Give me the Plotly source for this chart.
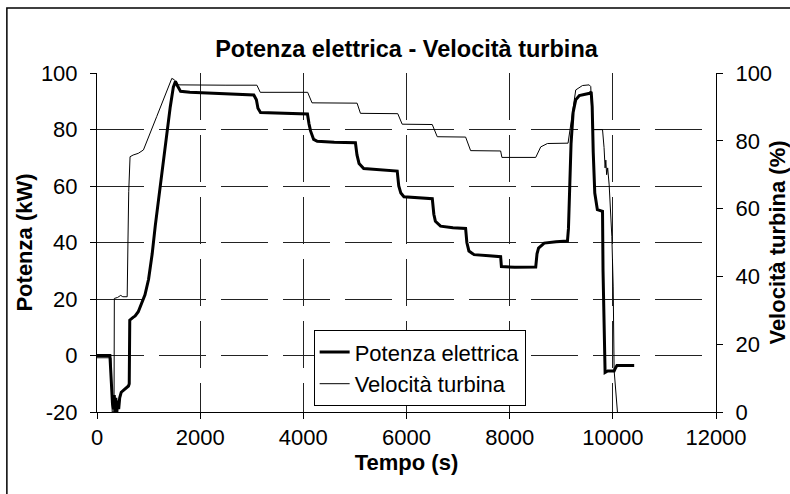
import plotly.graph_objects as go

# Potenza elettrica (kW) vs tempo (s)
t_power = [0, 250, 265, 280, 300, 320, 335, 350, 365, 385, 400, 420, 440, 470, 540, 610, 625,
           635, 700, 740, 800, 870, 930, 1000, 1070, 1130, 1210, 1290, 1360, 1420, 1480, 1520,
           1560, 1620, 1800, 2100, 2450, 2800, 3040, 3090, 3120, 3170, 3600, 4080, 4110, 4140,
           4200, 4270, 4600, 5010, 5040, 5080, 5170, 5500, 5820, 5850, 5890, 5950, 6200, 6500,
           6530, 6560, 6660, 6900, 7146, 7170, 7210, 7310, 7600, 7825, 7840, 8100, 8505, 8530,
           8560, 8670, 8900, 9120, 9140, 9160, 9190, 9230, 9280, 9350, 9450, 9550, 9580, 9600,
           9620, 9650, 9700, 9800, 9810, 9825, 9835, 9850, 9900, 10025, 10050, 10080, 10414]
power = [0, 0, -5, -12, -17, -19, -14, -20, -15, -20, -16, -19, -15, -13, -12, -10.8, -10,
         12.5, 13.5, 14, 15.5, 18.5, 21.5, 27, 36, 46, 58, 70, 80, 88, 95, 97,
         95.5, 93.5, 93.2, 93, 92.8, 92.5, 92.2, 90.5, 87.5, 86, 85.8, 85.5, 82, 79.5,
         76.5, 75.8, 75.5, 75.3, 71, 68, 66.2, 65.7, 65.3, 60, 57.5, 56.2, 55.8, 55.5,
         50, 47.5, 45.8, 45.2, 45, 40, 37, 35.7, 35.3, 35, 31.5, 31.2, 31.3, 36,
         38, 39.8, 40.3, 40.5, 45, 60, 75, 86, 90.5, 92, 92.3, 92.8, 93.3, 88,
         72, 57.5, 51.6, 51, 30, 15, 8, -6, -5.5, -5.5, -4.5, -3.5, -3.5]

# Velocità turbina (%) vs tempo (s)
t_vel = [0, 270, 285, 295, 330, 336, 400, 460, 500, 585, 600, 615, 641, 700, 800, 900, 1159,
         1450, 1500, 1580, 2500, 3100, 3165, 4084, 4168, 5042, 5107, 5831, 5916, 6499, 6596,
         7146, 7243, 7825, 7850, 8505, 8602, 8732, 9132, 9217, 9281, 9411, 9540, 9572, 9605,
         9637, 9800, 9830, 9850, 9864, 9880, 9900, 9929, 9981, 10007, 10025, 10078, 10100]
vel = [16, 16, 5, 0, 0, 33.5, 33.8, 34.4, 34, 34, 50, 65, 75.3, 75.8, 76.3, 77.3, 87.2,
       98.4, 98, 96.5, 96.4, 96.4, 94.3, 94.3, 91.2, 91.1, 88.1, 88, 84.9, 84.8, 81.2,
       81.1, 77.1, 77, 75.1, 75.1, 78.2, 79.2, 79.3, 88.1, 95, 96.3, 96.5, 96, 83.7,
       83.3, 83.3, 78, 72, 74.3, 70, 72, 67, 51.7, 36.9, 12.3, 0.5, -2]

# left axis ticks (plain hyphen for the minus sign, as in the original)
power_ticks = [-20, 0, 20, 40, 60, 80, 100]
power_ticktext = ["-20", "0", "20", "40", "60", "80", "100"]

FONT = "Liberation Sans, Arial, sans-serif"
GRID_DASH = "47px,15px"

fig = go.Figure()

fig.add_trace(go.Scatter(
    x=t_power, y=power,
    mode="lines",
    line=dict(color="black", width=3),
    name="Potenza elettrica",
    yaxis="y"
))

fig.add_trace(go.Scatter(
    x=t_vel, y=vel,
    mode="lines",
    line=dict(color="black", width=1),
    name="Velocità turbina",
    yaxis="y2"
))

fig.update_layout(
    width=790,
    height=494,
    margin=dict(l=97, r=74, t=73, b=82),
    plot_bgcolor="white",
    paper_bgcolor="white",
    font=dict(family=FONT, size=22, color="black"),
    title=dict(text="<b>Potenza elettrica - Velocità turbina</b>",
               font=dict(size=23.5), x=0.5, xref="paper",
               y=1 - 49 / 494, yref="container", yanchor="middle", automargin=False),
    xaxis=dict(range=[0, 12000], dtick=2000, tickformat="d", showline=True, linecolor="black",
               linewidth=1, ticks="outside", ticklen=6, tickcolor="black",
               showgrid=True, gridcolor="#222", gridwidth=1, griddash=GRID_DASH,
               zeroline=False, ticklabelstandoff=0, automargin=False,
               title=dict(text="<b>Tempo (s)</b>", font=dict(size=22), standoff=4)),
    yaxis=dict(range=[-20, 100], tickvals=power_ticks, ticktext=power_ticktext,
               showline=True, linecolor="black",
               linewidth=1, ticks="outside", ticklen=6, tickcolor="black",
               showgrid=True, gridcolor="#222", gridwidth=1, griddash=GRID_DASH,
               zeroline=False, ticklabelstandoff=8, automargin=False,
               title=dict(text="<b>Potenza (kW)</b>", font=dict(size=22), standoff=2)),
    yaxis2=dict(range=[0, 100], dtick=20, overlaying="y", side="right",
                showline=True, linecolor="black", linewidth=1, ticks="outside",
                ticklen=6, tickcolor="black", showgrid=False, zeroline=False,
                ticklabelstandoff=8, automargin=False,
                title=dict(text="<b>Velocità turbina (%)</b>", font=dict(size=22), standoff=10)),
    legend=dict(x=0.35, y=0.241, xanchor="left", yanchor="top",
                bgcolor="white", bordercolor="black", borderwidth=1,
                font=dict(size=22), tracegroupgap=0),
    showlegend=True
)

# outer chart border
fig.add_shape(type="rect", xref="paper", yref="paper",
              x0=-0.1456, x1=1.2, y0=-0.3, y1=1.192,
              line=dict(color="black", width=1.5), fillcolor="rgba(0,0,0,0)", layer="below")

# drop the browser's default page margin so the figure sits at the top-left corner
fig.write_html("out.html", config={"displayModeBar": False},
               post_script="document.body.style.margin='0';")
